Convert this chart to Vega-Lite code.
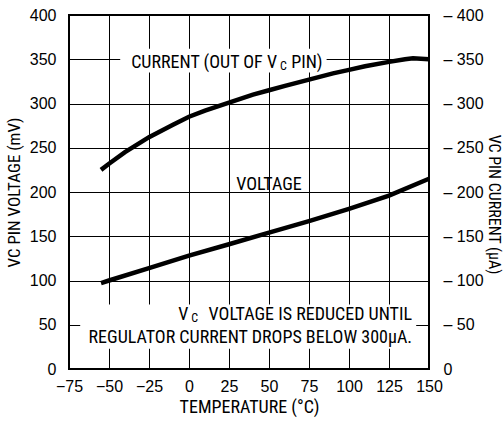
{
  "$schema": "https://vega.github.io/schema/vega-lite/v6.json",
  "width": 360,
  "height": 354,
  "autosize": {"type": "none"},
  "padding": {"left": 69, "top": 15, "right": 74, "bottom": 56},
  "background": "white",
  "config": {
    "view": {"stroke": "black", "strokeWidth": 2},
    "font": "Liberation Sans Narrow, Roboto Condensed, Roboto, Liberation Sans",
    "axis": {
      "domain": false,
      "ticks": false,
      "gridColor": "black",
      "gridWidth": 1,
      "gridOpacity": 1,
      "labelOverlap": false,
      "labelFont": "Liberation Sans",
      "labelFontSize": 16,
      "labelColor": "black",
      "titleFont": "Liberation Sans Narrow, Roboto Condensed, Roboto, Liberation Sans",
      "titleFontSize": 17,
      "titleFontWeight": "normal",
      "titleColor": "black"
    }
  },
  "datasets": {
    "voltage": [
      {"temp": -55, "value": 97},
      {"temp": -50, "value": 100},
      {"temp": -25, "value": 114},
      {"temp": 0, "value": 128},
      {"temp": 25, "value": 141},
      {"temp": 50, "value": 154},
      {"temp": 75, "value": 167},
      {"temp": 100, "value": 181},
      {"temp": 125, "value": 196},
      {"temp": 150, "value": 215}
    ],
    "current": [
      {"temp": -55, "value": 225},
      {"temp": -50, "value": 232},
      {"temp": -40, "value": 245},
      {"temp": -25, "value": 262},
      {"temp": -10, "value": 276},
      {"temp": 0, "value": 285},
      {"temp": 10, "value": 292},
      {"temp": 25, "value": 301},
      {"temp": 40, "value": 310},
      {"temp": 50, "value": 315},
      {"temp": 60, "value": 320},
      {"temp": 75, "value": 327},
      {"temp": 90, "value": 334},
      {"temp": 100, "value": 338},
      {"temp": 110, "value": 342},
      {"temp": 125, "value": 347},
      {"temp": 135, "value": 350},
      {"temp": 140, "value": 351},
      {"temp": 150, "value": 350}
    ],
    "boxes": [
      {"temp": -43, "temp2": 86, "value": 335, "value2": 362},
      {"temp": -68, "temp2": 142, "value": 23, "value2": 73}
    ],
    "labelsRight": [
      {"text": "CURRENT (OUT OF V", "temp": 55, "value": 346},
      {"text": "PIN)", "temp": 83.5, "value": 346},
      {"text": "V", "temp": -0.4, "value": 60.5},
      {"text": "VOLTAGE IS REDUCED UNTIL", "temp": 139.4, "value": 60.5},
      {"text": "REGULATOR CURRENT DROPS BELOW 300µA.", "temp": 139.4, "value": 35}
    ],
    "labelsSub": [
      {"text": "C", "temp": 55, "value": 346},
      {"text": "C", "temp": -0.4, "value": 60.5}
    ],
    "labelsCenter": [
      {"text": "VOLTAGE", "temp": 50, "value": 208}
    ]
  },
  "encoding": {
    "x": {
      "field": "temp", "type": "quantitative",
      "scale": {"domain": [-75, 150], "nice": false, "zero": false},
      "axis": {
        "grid": true,
        "values": [-75, -50, -25, 0, 25, 50, 75, 100, 125, 150],
        "labelExpr": "datum.value < 0 ? '−' + format(abs(datum.value), 'd') : datum.label",
        "labelPadding": 9,
        "labelFlush": false,
        "title": "TEMPERATURE (°C)",
        "titleFontSize": 18,
        "titlePadding": 4
      }
    }
  },
  "layer": [
    {
      "layer": [
        {
          "data": {"name": "boxes"},
          "mark": {"type": "rect", "fill": "white", "strokeWidth": 0},
          "encoding": {
            "x2": {"field": "temp2"},
            "y": {
              "field": "value", "type": "quantitative",
              "scale": {"domain": [0, 400], "nice": false},
              "axis": {
                "grid": true,
                "orient": "left",
                "values": [0, 50, 100, 150, 200, 250, 300, 350, 400],
                "labelPadding": 13,
                "labelFlush": false,
                "title": "VC PIN VOLTAGE (mV)",
                "titlePadding": 6
              }
            },
            "y2": {"field": "value2"}
          }
        },
        {
          "data": {"name": "voltage"},
          "mark": {"type": "line", "color": "black", "strokeWidth": 4.5, "strokeCap": "butt"},
          "encoding": {
            "y": {"field": "value", "type": "quantitative"}
          }
        },
        {
          "data": {"name": "labelsRight"},
          "mark": {"type": "text", "align": "right", "baseline": "middle", "fontSize": 18, "color": "black"},
          "encoding": {
            "y": {"field": "value", "type": "quantitative"},
            "text": {"field": "text"}
          }
        },
        {
          "data": {"name": "labelsSub"},
          "mark": {"type": "text", "align": "left", "baseline": "middle", "fontSize": 12, "dx": 3, "dy": 3, "color": "black"},
          "encoding": {
            "y": {"field": "value", "type": "quantitative"},
            "text": {"field": "text"}
          }
        },
        {
          "data": {"name": "labelsCenter"},
          "mark": {"type": "text", "align": "center", "baseline": "middle", "fontSize": 18, "color": "black"},
          "encoding": {
            "y": {"field": "value", "type": "quantitative"},
            "text": {"field": "text"}
          }
        }
      ]
    },
    {
      "data": {"name": "current"},
      "mark": {"type": "line", "color": "black", "strokeWidth": 4.5, "strokeCap": "butt"},
      "encoding": {
        "y": {
          "field": "value", "type": "quantitative",
          "scale": {"domain": [0, 400], "nice": false},
          "axis": {
            "orient": "right",
            "grid": false,
            "values": [0, 50, 100, 150, 200, 250, 300, 350, 400],
            "labelExpr": "datum.value == 0 ? '0' : '– ' + datum.label",
            "labelPadding": 14,
            "labelFlush": false,
            "title": "VC PIN CURRENT (µA)",
            "titleFontSize": 16,
            "titleAngle": 90,
            "titleY": 189,
            "titlePadding": 2
          }
        }
      }
    }
  ],
  "resolve": {"scale": {"y": "independent"}}
}
